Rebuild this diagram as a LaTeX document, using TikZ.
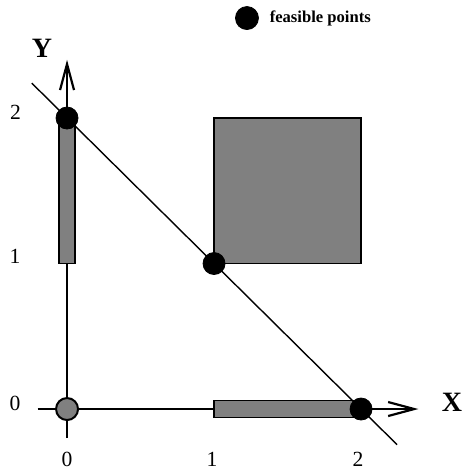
\documentclass[tikz,border=0pt]{standalone}
\usepackage{fontspec}
\setmainfont{Liberation Serif}
\usetikzlibrary{arrows.meta,positioning}
\tikzset{
    feasible/.style={circle,draw,fill=black,inner sep=0pt,minimum size=11pt},
    region/.style={draw,line width=0.8pt,fill=gray},
    ticklabel/.style={font=\fontsize{10.8}{12}\selectfont,inner sep=0pt},
    axislabel/.style={font=\fontsize{14}{16}\selectfont\bfseries,inner sep=0pt},
}
\begin{document}
\begin{tikzpicture}[x=73.5pt,y=72.75pt,>={Straight Barb[length=13pt,width=7pt]}]
    \useasboundingbox (-0.456,-0.419) rectangle (2.707,2.811);

    % Axes
    \coordinate (xs) at (-0.2,0);
    \coordinate (xe) at (2.39,0);
    \coordinate (ys) at (0,-0.2);
    \coordinate (ye) at (0,2.40);
    \draw[line width=1.1pt,->] (xs) -- (xe);
    \draw[line width=1.1pt,->] (ys) -- (ye);

    % Regions
    \draw[region] (-0.054,1) rectangle (0.054,2);
    \draw[region] (1,-0.058) rectangle (2,0.058);
    \draw[region] (1,1) rectangle (2,2);

    % Line x + y = 2
    \draw[line width=0.7pt] (-0.24,2.24) -- (2.245,-0.245);

    % Points
    \node[circle,draw,fill=gray,line width=1pt,inner sep=0pt,minimum size=11pt] (p00) at (0,0) {};
    \node[feasible] (p02) at (0,2) {};
    \node[feasible] (p11) at (1,1) {};
    \node[feasible] (p20) at (2,0) {};

    % Legend
    \node[feasible,minimum size=11.5pt] (key) at (1.224,2.687) {};
    \node[right=5.25pt of key,inner sep=0pt,font=\fontsize{8.3}{10}\selectfont\bfseries] (keytext) {feasible points};

    % Labels
    \node[axislabel] (ylab) at (-0.17,2.481) {Y};
    \node[axislabel] (xlab) at (2.619,0.048) {X};
    \node[ticklabel] (ly0) at (-0.354,0.041) {0};
    \node[ticklabel] (ly1) at (-0.354,1.048) {1};
    \node[ticklabel] (ly2) at (-0.35,2.041) {2};
    \node[ticklabel] (lx0) at (0,-0.345) {0};
    \node[ticklabel] (lx1) at (0.986,-0.345) {1};
    \node[ticklabel] (lx2) at (1.98,-0.345) {2};
\end{tikzpicture}
\end{document}
